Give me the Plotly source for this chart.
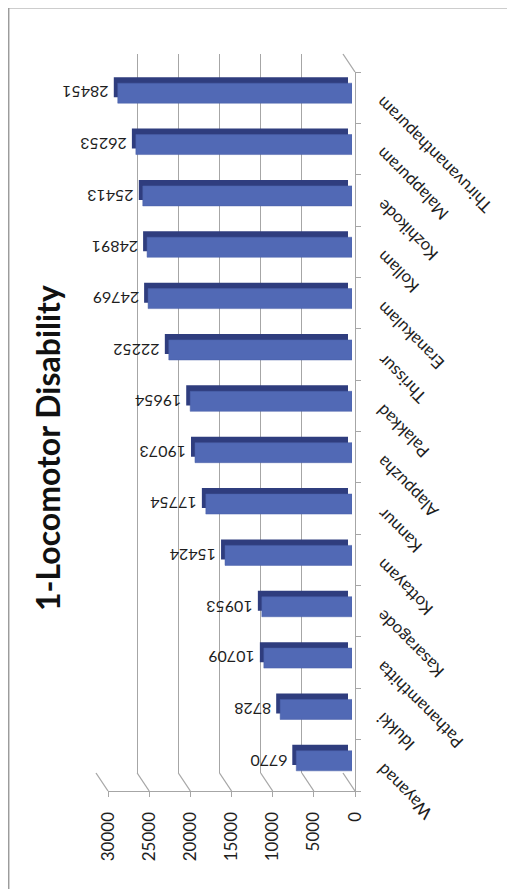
import plotly.graph_objects as go

# ---- data (bottom to top) ----
districts = ["Wayanad", "Idukki", "Pathanamthitta", "Kasaragode", "Kottayam", "Kannur",
             "Alappuzha", "Palakkad", "Thrissur", "Eranakulam", "Kollam", "Kozhikode",
             "Malappuram", "Thiruvananthapuram"]
counts = [6770, 8728, 10709, 10953, 15424, 17754, 19073, 19654, 22252, 24769, 24891,
          25413, 26253, 28451]
value_ticks = [0, 5000, 10000, 15000, 20000, 25000, 30000]
title_text = "1-Locomotor Disability"

PAGE_OFF = 8                  # default body margin of the html page
W, H = 515 - PAGE_OFF, 889 - PAGE_OFF
def px(x):
    return (x - PAGE_OFF) / W
def py(y):
    return 1 - (y - PAGE_OFF) / H

VMAX = 30000
# front plane of the 3D chart (reference pixel positions)
FX0, FX1 = 108, 355      # VMAX .. 0
FY0, FY1 = 72, 791       # top .. bottom
DX, DY = -12, -18        # depth offset to back wall

def dom(dx, dy):
    return [px(FX0 + dx), px(FX1 + dx)], [py(FY1 + dy), py(FY0 + dy)]

def back_px(v):
    # position of a value on the back wall, via the axis scale
    return FX1 + DX - v / VMAX * (FX1 - FX0)

GRID = "#a6a6a6"
FONT = "Lato"
TXT = "#1e1e1e"
ncat = len(districts)

fig = go.Figure()

# back wall (gridlines) subplot x2/y2
xd2, yd2 = dom(DX, DY)
fig.add_trace(go.Scatter(x=counts, y=districts, mode="markers", marker=dict(opacity=0),
                         xaxis="x2", yaxis="y2", hoverinfo="skip", showlegend=False))

# bar depth face subplot x3/y3
bd = 0.58
xd3, yd3 = dom(DX * bd, DY * bd)
fig.add_trace(go.Bar(x=counts, y=districts, orientation="h", width=0.39,
                     marker=dict(color="#2f3d7e", line=dict(width=0)),
                     xaxis="x3", yaxis="y3", hoverinfo="skip", showlegend=False))

# bar front face subplot x4/y4
fd = 0.25
xd4, yd4 = dom(DX * fd, DY * fd)
fig.add_trace(go.Bar(x=counts, y=districts, orientation="h", width=0.39,
                     marker=dict(color="#5169b5", line=dict(color="#4a60a8", width=0.5)),
                     xaxis="x4", yaxis="y4", hoverinfo="skip", showlegend=False))

# front axes (x / y) carry value ticks and axis lines
fig.add_trace(go.Scatter(x=counts, y=districts, mode="markers", marker=dict(opacity=0),
                         hoverinfo="skip", showlegend=False))

common_hidden = dict(showticklabels=False, ticks="", zeroline=False, showline=False)

layout = dict(
    width=W, height=H, margin=dict(l=0, r=0, t=0, b=0),
    paper_bgcolor="white", plot_bgcolor="rgba(0,0,0,0)",
    template="none", showlegend=False,
    xaxis=dict(domain=[px(FX0), px(FX1)], range=[VMAX, 0], anchor="y",
               showgrid=False, zeroline=False, showline=True, linecolor=GRID, linewidth=1.3,
               ticks="outside", ticklen=5, tickcolor=GRID, tickwidth=1.3,
               tickvals=value_ticks, ticktext=[str(v) for v in value_ticks],
               tickangle=-90, ticklabelstandoff=8,
               tickfont=dict(family=FONT, size=17, color=TXT)),
    yaxis=dict(domain=[py(FY1), py(FY0)], range=[-0.5, ncat - 0.5], anchor="x",
               type="category", side="right",
               showgrid=False, zeroline=False, showline=True, linecolor=GRID, linewidth=1.3,
               ticks="outside", ticklen=5, tickcolor=GRID, tickwidth=1.3,
               tickson="boundaries", showticklabels=False),
    xaxis2=dict(domain=xd2, range=[VMAX, 0], anchor="y2", showgrid=True,
                gridcolor=GRID, gridwidth=1.3, tickvals=value_ticks, **common_hidden),
    yaxis2=dict(domain=yd2, range=[-0.5, ncat - 0.5], anchor="x2", type="category",
                showgrid=False, **common_hidden),
    xaxis3=dict(domain=xd3, range=[VMAX, 0], anchor="y3", showgrid=False, **common_hidden),
    yaxis3=dict(domain=yd3, range=[-0.5, ncat - 0.5], anchor="x3", type="category",
                showgrid=False, **common_hidden),
    xaxis4=dict(domain=xd4, range=[VMAX, 0], anchor="y4", showgrid=False, **common_hidden),
    yaxis4=dict(domain=yd4, range=[-0.5, ncat - 0.5], anchor="x4", type="category",
                showgrid=False, **common_hidden),
)

shapes = []
# floor connectors from back gridlines to front value axis
for v in value_ticks:
    shapes.append(dict(type="line", xref="paper", yref="paper",
                       x0=px(back_px(v)), x1=px(back_px(v) - DX),
                       y0=py(FY1 + DY), y1=py(FY1),
                       line=dict(color=GRID, width=1.3)))
# top side-wall edge
shapes.append(dict(type="line", xref="paper", yref="paper",
                   x0=px(back_px(0)), x1=px(FX1), y0=py(FY0 + DY), y1=py(FY0),
                   line=dict(color=GRID, width=1.3)))
# outer chart border
shapes.append(dict(type="rect", xref="paper", yref="paper", x0=px(8.7), x1=1.05,
                   y0=-0.05, y1=py(7.8), line=dict(color="#9c9c9c", width=1.5)))
layout["shapes"] = shapes

annotations = []
# value labels (rotated like the source image)
for d, c in zip(districts, counts):
    annotations.append(dict(x=c, y=d, xref="x4", yref="y4", text=str(c), showarrow=False,
                            xanchor="right", yanchor="middle", xshift=-9, textangle=180,
                            borderpad=0, borderwidth=0,
                            font=dict(family=FONT, size=16, color=TXT)))
# category labels
for d in districts:
    annotations.append(dict(x=px(372), y=d, xref="paper", yref="y", text=d, showarrow=False,
                            xanchor="left", yanchor="top", yshift=5, textangle=-135,
                            borderpad=0, borderwidth=0,
                            font=dict(family=FONT, size=17, color=TXT)))
annotations.append(dict(x=px(47), y=py(448), xref="paper", yref="paper",
                        text="<b>" + title_text + "</b>",
                        showarrow=False, textangle=-90, xanchor="center", yanchor="middle",
                        font=dict(family=FONT, size=32, color="#111")))
layout["annotations"] = annotations

fig.update_layout(**layout)
fig.write_html("out.html")
